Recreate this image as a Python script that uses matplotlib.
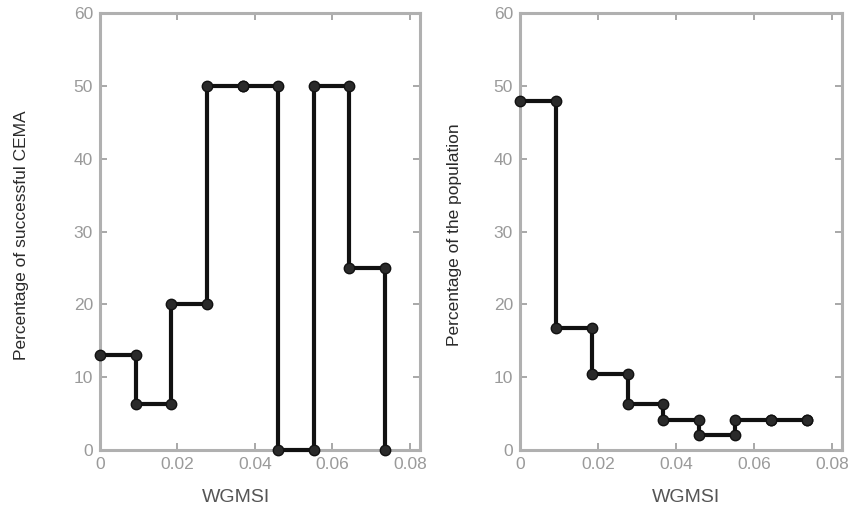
import matplotlib
matplotlib.use("Agg")
import matplotlib.pyplot as plt
import numpy as np

# Data
wgmsi = [0.0, 0.0092, 0.0184, 0.0276, 0.0368, 0.046, 0.0552, 0.0644, 0.0736]
success_pct = [13, 6.25, 20, 50, 50, 0, 50, 25, 0]
population_pct = [47.9, 16.7, 10.4, 6.25, 4.17, 2.08, 4.17, 4.17, 4.17]

xticks = [0, 0.02, 0.04, 0.06, 0.08]
xticklabels = ["0", "0.02", "0.04", "0.06", "0.08"]
yticks = [0, 10, 20, 30, 40, 50, 60]

left_ylabel = "Percentage of successful CEMA"
right_ylabel = "Percentage of the population"
xlabel = "WGMSI"


def stairs_xy(x, y):
    xs, ys = [x[0]], [y[0]]
    for i in range(1, len(x)):
        xs += [x[i], x[i]]
        ys += [y[i - 1], y[i]]
    return xs, ys


W, H = 856, 516
fig = plt.figure(figsize=(W / 100, H / 100), dpi=100)

axes_px = [(100, 420), (520, 842)]
top_px, bot_px = 13, 450
label_font = ["Liberation Sans Narrow", "Liberation Sans", "DejaVu Sans"]

for (l, r), yvals, ylab, xlab_x, ylab_x in zip(
        axes_px, [success_pct, population_pct],
        [left_ylabel, right_ylabel], [236, 686], [22, 455]):
    ax = fig.add_axes([l / W, (H - bot_px) / H, (r - l) / W, (bot_px - top_px) / H])
    xs, ys = stairs_xy(wgmsi, yvals)
    ax.plot(xs, ys, color="#111111", lw=3.0, marker="o", ms=7.5,
            mfc="#2a2a2a", mec="#111111", clip_on=False, zorder=5)
    ax.set_xlim(0, 0.0826)
    ax.set_ylim(0, 60)
    ax.set_xticks(xticks)
    ax.set_xticklabels(xticklabels)
    ax.set_yticks(yticks)
    for s in ax.spines.values():
        s.set_color("#b0b0b0")
        s.set_linewidth(2.2)
    ax.tick_params(direction="in", top=True, right=True, length=5, width=1.2,
                   color="#999999", labelcolor="#9a9a9a", labelsize=12.5, pad=5)
    for t in ax.get_xticklabels() + ax.get_yticklabels():
        t.set_family(label_font)
    fig.text(xlab_x / W, 1 - 497 / H, xlabel, ha="center", va="center",
             fontsize=14, color="#555555", family=label_font)
    fig.text(ylab_x / W, 1 - 235 / H, ylab, ha="center", va="center",
             rotation=90, fontsize=12.5, color="#2a2a2a", family=label_font)

fig.savefig("out.png", dpi=100)
